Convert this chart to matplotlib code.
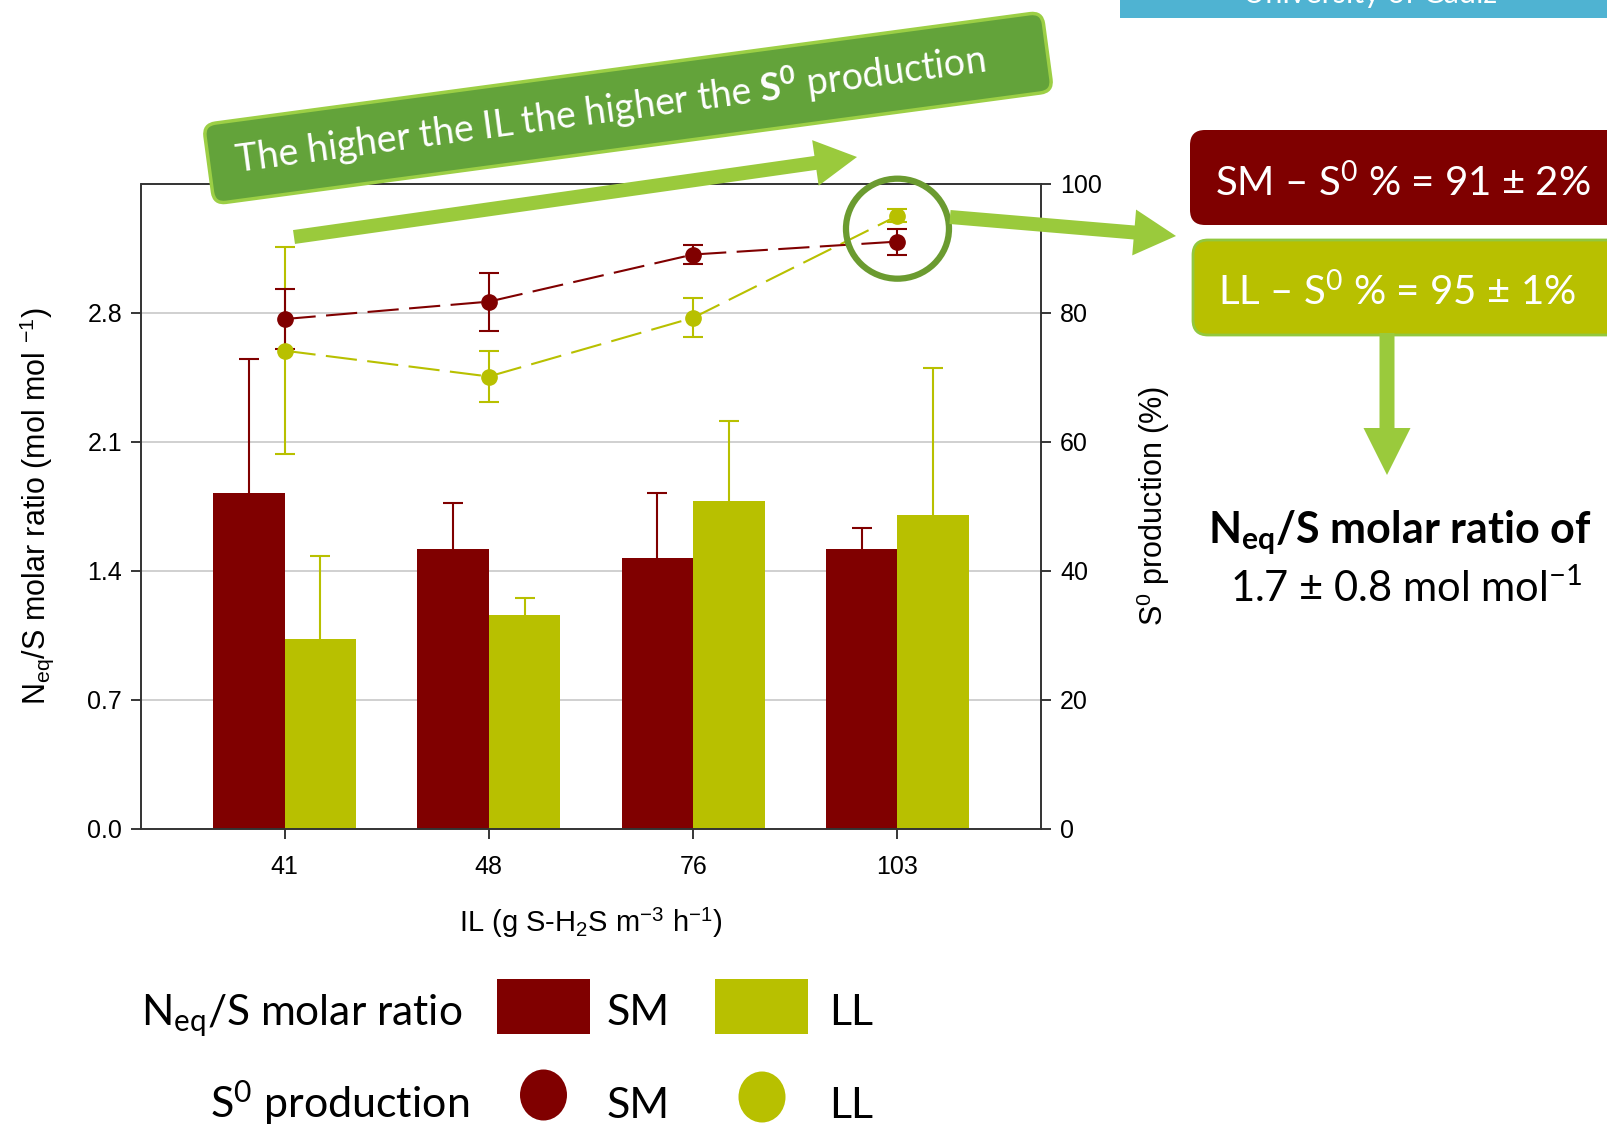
import numpy as np
import matplotlib
matplotlib.use("Agg")
import matplotlib.pyplot as plt
from matplotlib.patches import FancyBboxPatch, FancyArrow, Ellipse, Rectangle
from matplotlib.transforms import Affine2D, IdentityTransform
from matplotlib.ticker import FormatStrFormatter

# inlet loads (g S-H2S m-3 h-1)
loads = ["41", "48", "76", "103"]

# Neq/S molar ratio (mol mol-1), bars
ratio_sm = [1.82, 1.52, 1.47, 1.52]
ratio_sm_err = [0.73, 0.25, 0.35, 0.11]
ratio_ll = [1.03, 1.16, 1.78, 1.70]
ratio_ll_err = [0.45, 0.09, 0.43, 0.80]

# S0 production (%), points
s0_sm = [79.0, 81.7, 89.0, 91.0]
s0_sm_err = [4.6, 4.5, 1.5, 2.0]
s0_ll = [74.1, 70.1, 79.2, 95.0]
s0_ll_err = [16.0, 3.9, 3.0, 1.0]

SM = "#800000"
LL = "#b8c000"
ARROW = "#9aca3c"

plt.rcParams["font.family"] = ["Liberation Sans", "DejaVu Sans"]
plt.rcParams["mathtext.fontset"] = "custom"
plt.rcParams["mathtext.rm"] = "Lato"
plt.rcParams["mathtext.it"] = "Lato:italic"
plt.rcParams["mathtext.bf"] = "Lato:bold"

W, H = 1608, 1125
fig = plt.figure(figsize=(W / 100, H / 100), dpi=100)
ax = fig.add_axes([141.5 / W, 1 - 829 / H, 899 / W, 645.5 / H])

x = np.arange(len(loads))
bw = 0.35
ax.bar(x, ratio_sm, width=-bw, align="edge", color=SM, zorder=2)
ax.bar(x, ratio_ll, width=bw, align="edge", color=LL, zorder=2)
# upper error only, no cap on the bar top
for xs, vals, errs, col in [(x - bw / 2, ratio_sm, ratio_sm_err, SM),
                            (x + bw / 2, ratio_ll, ratio_ll_err, LL)]:
    eb = ax.errorbar(xs, vals, yerr=[np.zeros(4), errs], fmt="none", ecolor=col,
                     elinewidth=1.5, capsize=7, capthick=1.5, zorder=3)
    eb[1][0].set_visible(False)

ax.set_xlim(-0.7, 3.7)
ax.set_ylim(0, 3.5)
ax.set_yticks([0, 0.7, 1.4, 2.1, 2.8])
ax.yaxis.set_major_formatter(FormatStrFormatter("%.1f"))
ax.set_xticks(x)
ax.set_xticklabels(loads)
ax.yaxis.grid(True, color="#c8c8c8", lw=1.2)
ax.set_axisbelow(True)
ax.tick_params(labelsize=18, direction="out", length=7, width=1.1, pad=7)
ax.tick_params(axis="x", pad=12)
for sp in ax.spines.values():
    sp.set_color("#333333")
    sp.set_linewidth(1.2)

ax.set_ylabel(r"N$_{\mathregular{eq}}$/S molar ratio (mol mol $^{\mathregular{-1}}$)", fontsize=22)
ax.yaxis.set_label_coords(-0.095, 0.5)
ax.set_xlabel(r"IL (g S-H$_{\mathregular{2}}$S m$^{\mathregular{-3}}$ h$^{\mathregular{-1}}$)", fontsize=21)
ax.xaxis.set_label_coords(0.5, -0.118)

ax2 = ax.twinx()
ax2.set_ylim(0, 100)
ax2.set_yticks(range(0, 101, 20))
ax2.tick_params(labelsize=18, direction="out", length=7, width=1.1, pad=7)
for sp in ax2.spines.values():
    sp.set_color("#333333")
    sp.set_linewidth(1.2)
ax2.plot(x, s0_ll, ls=(0, (15, 5)), color=LL, lw=1.5)
ax2.errorbar(x, s0_ll, yerr=s0_ll_err, fmt="o", color=LL, ms=11,
             elinewidth=1.5, capsize=7, capthick=1.5)
ax2.plot(x, s0_sm, ls=(0, (15, 5)), color=SM, lw=1.5)
ax2.errorbar(x, s0_sm, yerr=s0_sm_err, fmt="o", color=SM, ms=11,
             elinewidth=1.5, capsize=7, capthick=1.5)
ax2.set_ylabel(r"S$^{\mathregular{0}}$ production (%)", fontsize=22)
ax2.yaxis.set_label_coords(1.104, 0.5)

# ---- slide annotations, in pixel coordinates from the top-left corner ----
ID = IdentityTransform()


def px(xp, yp):
    return (xp, H - yp)


def slide_text(xp, yp, s, **kw):
    kw.setdefault("family", ["Lato", "DejaVu Sans"])
    fig.text(*px(xp, yp), s, transform=ID, **kw)


# header strip
fig.add_artist(Rectangle(px(1120, 17.5), 600, 40, fc="#4fb3d2", ec="none", transform=ID))
slide_text(1370, 3, "University of Cadiz", color="white", fontsize=22,
           ha="center", va="baseline")

# rotated banner
ang = 7.65
bcx, bcy = 628, 108
bwid, bht = 846, 80
rot = Affine2D().rotate_deg_around(bcx, H - bcy, ang)
fig.add_artist(FancyBboxPatch((bcx - bwid / 2, H - bcy - bht / 2), bwid, bht,
                              boxstyle="round,pad=0,rounding_size=12",
                              fc="#63a33a", ec="#9ccf45", lw=2.5, transform=rot))
slide_text(610, 110, r"The higher the IL the higher the $\mathbf{S^0}$ production",
           color="white", fontsize=27, ha="center", va="center",
           rotation=ang, rotation_mode="anchor")

# trend arrow
fig.add_artist(FancyArrow(*px(294, 237), 857 - 294, 237 - 157, width=14, head_width=46,
                          head_length=42, length_includes_head=True,
                          fc=ARROW, ec="none", transform=ID))

# highlight of the highest load
cx, cy = ax2.transData.transform((x[-1], (s0_sm[-1] + s0_ll[-1]) / 2))
fig.add_artist(Ellipse((cx, cy), 103, 100, fc="none", ec="#6b9b30", lw=4.5, transform=ID))
fig.add_artist(FancyArrow(*px(950, 217), 1176 - 950, 217 - 236, width=14, head_width=46,
                          head_length=42, length_includes_head=True,
                          fc=ARROW, ec="none", transform=ID))

# result boxes
fig.add_artist(FancyBboxPatch(px(1190, 225), 500, 95, boxstyle="round,pad=0,rounding_size=15",
                              fc="#7f0000", ec="none", transform=ID))
fig.add_artist(FancyBboxPatch(px(1193, 335), 500, 95, boxstyle="round,pad=0,rounding_size=15",
                              fc=LL, ec="#92c83e", lw=2, transform=ID))
slide_text(1215, 196,
           rf"SM – S$^{{\mathregular{{0}}}}$ % = {s0_sm[-1]:.0f} ± {s0_sm_err[-1]:.0f}%",
           color="white", fontsize=29, ha="left", va="baseline")
slide_text(1218, 305,
           rf"LL – S$^{{\mathregular{{0}}}}$ % = {s0_ll[-1]:.0f} ± {s0_ll_err[-1]:.0f}%",
           color="white", fontsize=29, ha="left", va="baseline")

fig.add_artist(FancyArrow(*px(1387, 333), 0, -(475 - 333), width=15, head_width=47,
                          head_length=47, length_includes_head=True,
                          fc=ARROW, ec="none", transform=ID))
slide_text(1400, 543, r"N$_{\mathregular{eq}}$/S molar ratio of", fontsize=31,
           fontweight="bold", ha="center", va="baseline")
slide_text(1406, 602,
           rf"{ratio_ll[-1]:.1f} ± {ratio_ll_err[-1]:.1f} mol mol$^{{\mathregular{{-1}}}}$",
           fontsize=30, ha="center", va="baseline")

# legend
slide_text(141, 1025, r"N$_{\mathregular{eq}}$/S molar ratio", fontsize=30.5,
           ha="left", va="baseline")
fig.add_artist(Rectangle(px(497, 1034), 93, 55, fc=SM, ec="none", transform=ID))
fig.add_artist(Rectangle(px(715, 1034), 93, 55, fc=LL, ec="none", transform=ID))
slide_text(607, 1025, "SM", fontsize=31, ha="left", va="baseline")
slide_text(829, 1025, "LL", fontsize=31, ha="left", va="baseline")

slide_text(469, 1118, r"S$^{\mathregular{0}}$ production", fontsize=31,
           ha="right", va="baseline")
fig.add_artist(Ellipse(px(543.5, 1095), 47, 51, fc=SM, ec="none", transform=ID))
fig.add_artist(Ellipse(px(762, 1097), 47, 51, fc=LL, ec="none", transform=ID))
slide_text(607, 1118, "SM", fontsize=31, ha="left", va="baseline")
slide_text(829, 1118, "LL", fontsize=31, ha="left", va="baseline")

fig.savefig("out.png", dpi=100)
